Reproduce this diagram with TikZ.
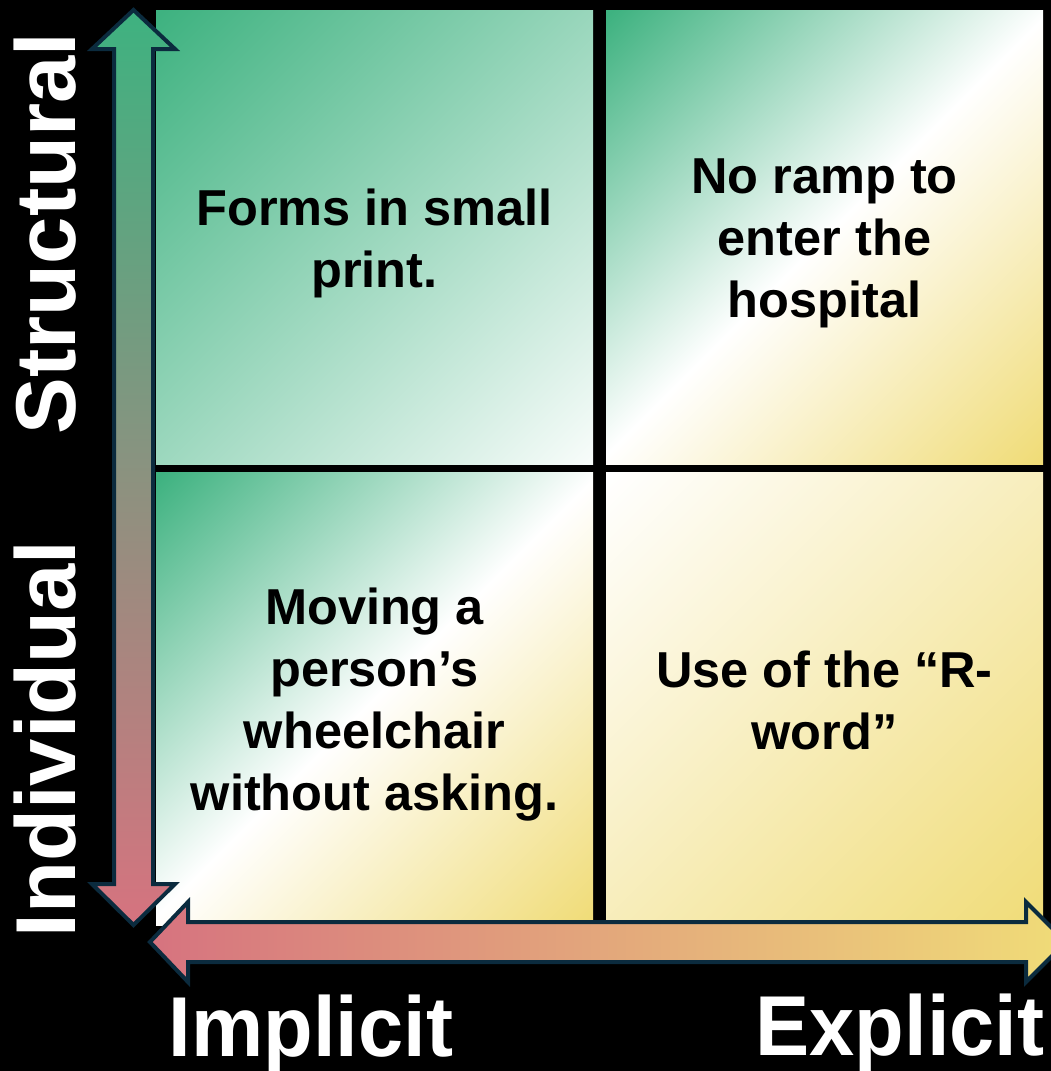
\documentclass[tikz,border=0pt]{standalone}
\usepackage{fontspec}
\setmainfont{Liberation Sans}
\newfontfamily\narrowsans[FakeStretch=0.955]{Liberation Sans}
\definecolor{qgreen}{HTML}{3EB280}
\definecolor{qyellow}{HTML}{F0DC78}
\definecolor{qpink}{HTML}{D6737F}
\definecolor{qnavy}{HTML}{0B2B3E}
\pgfdeclarehorizontalshading{qone}{100bp}{color(0bp)=(qgreen); color(15bp)=(qgreen); color(85bp)=(white!96!qgreen); color(100bp)=(white!96!qgreen)}
\pgfdeclarehorizontalshading{qtwo}{100bp}{color(0bp)=(qgreen); color(15bp)=(qgreen); color(50bp)=(white); color(85bp)=(qyellow); color(100bp)=(qyellow)}
\pgfdeclarehorizontalshading{qthree}{100bp}{color(0bp)=(white); color(15bp)=(white); color(85bp)=(qyellow); color(100bp)=(qyellow)}
\begin{document}
\begin{tikzpicture}[x=1pt,y=-1pt,
  quadtext/.style={align=center, text=black, inner sep=0pt,
    font=\fontsize{50.5}{62}\selectfont\bfseries},
  axislabel/.style={text=white, inner sep=0pt,
    font=\fontsize{85}{90}\selectfont\bfseries},
  hlabel/.style={text=white, inner sep=0pt,
    font=\narrowsans\fontsize{85}{90}\selectfont\bfseries},
  arrowshape/.style={draw=qnavy, line width=4pt, line join=miter},
  quad/.style={shading angle=-45}]
\useasboundingbox (0,0) rectangle (1051,1071);
\fill[black] (0,0) rectangle (1051,1071);
\begin{scope}
\clip (0,0) rectangle (1051,1071);
% quadrants
\shade[quad, shading=qone] (156,10) rectangle (593,464);
\shade[quad, shading=qtwo] (606,10) rectangle (1043,464);
\shade[quad, shading=qtwo] (156,472) rectangle (593,925);
\shade[quad, shading=qthree] (606,472) rectangle (1043,925);
% quadrant texts
\node[quadtext] (tl) at (374.5,243) {Forms in small\\print.};
\node[quadtext] (tr) at (824.5,243) {No ramp to\\enter the\\hospital};
\node[quadtext] (bl) at (374.5,705) {Moving a\\person’s\\wheelchair\\without asking.};
\node[quadtext] (br) at (824.5,700) {Use of the “R-\\word”};
% vertical arrow
\shade[arrowshape, top color=qgreen, bottom color=qpink]
  (133.5,10) -- (175,49) -- (153,49) -- (153,884) -- (175,884) -- (133.5,925)
  -- (92,884) -- (114,884) -- (114,49) -- (92,49) -- cycle;
% horizontal arrow
\shade[arrowshape, left color=qpink, right color=qyellow]
  (150,942) -- (188,902) -- (188,922) -- (1026,922) -- (1026,902) -- (1066,942)
  -- (1026,982) -- (1026,962) -- (188,962) -- (188,982) -- cycle;
\end{scope}
% axis labels
\node[axislabel, rotate=90, anchor=base] (structural) at (75,233.5) {Structural};
\node[axislabel, rotate=90, anchor=base] (individual) at (75,739) {Individual};
\node[hlabel, anchor=base] (implicit) at (311,1056) {Implicit};
\node[hlabel, anchor=base] (explicit) at (900,1055) {Explicit};
\end{tikzpicture}
\end{document}
